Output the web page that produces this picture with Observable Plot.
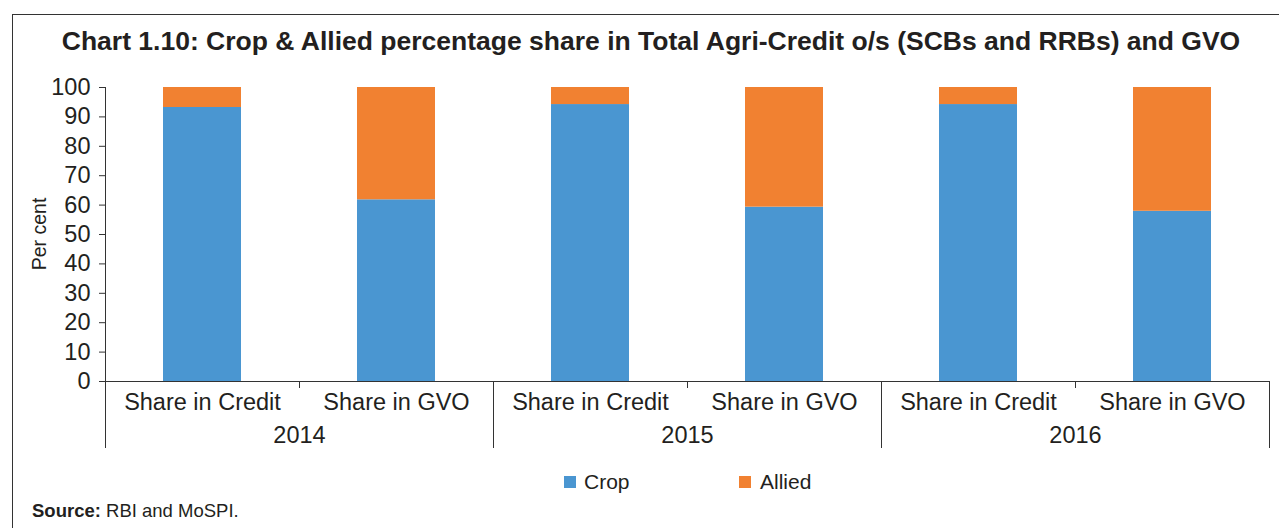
<!DOCTYPE html>
<html><head><meta charset="utf-8">
<script src="https://cdn.jsdelivr.net/npm/d3@7"></script>
<script src="https://cdn.jsdelivr.net/npm/@observablehq/plot@0.6"></script>
<style>
body{margin:0;background:#fff;font-family:"Liberation Sans",Arial,sans-serif;color:#231f20;}
#frame{position:absolute;left:12px;top:14px;width:1300px;height:530px;border-top:1.5px solid #333;border-left:1.5px solid #333;}
#title{position:absolute;left:0;width:1302px;top:26px;text-align:center;font-weight:bold;font-size:26.5px;white-space:nowrap;}
#chart{position:absolute;left:0;top:70px;}
.lg{position:absolute;top:470px;font-size:21px;line-height:24px;}
.sw{position:absolute;top:476px;width:12px;height:12px;}
#source{position:absolute;left:32px;top:500px;font-size:18.5px;}
</style>
</head><body>
<div id="frame"></div>
<div id="title">Chart 1.10: Crop &amp; Allied percentage share in Total Agri-Credit o/s (SCBs and RRBs) and GVO</div>
<div id="chart"></div>
<div class="sw" style="left:564px;background:#4a96d1"></div><div class="lg" style="left:584px">Crop</div>
<div class="sw" style="left:739px;background:#f18131"></div><div class="lg" style="left:760px">Allied</div>
<div id="source"><b>Source:</b> RBI and MoSPI.</div>
<script>
const years = ["2014", "2015", "2016"];
const shares = ["Share in Credit", "Share in GVO"];
const series = ["Crop", "Allied"];
const colors = ["#4a96d1", "#f18131"];
// values in order: 2014 Credit, 2014 GVO, 2015 Credit, 2015 GVO, 2016 Credit, 2016 GVO
const cropValues = [93.2, 61.8, 94.2, 59.3, 94.2, 57.9];
const alliedValues = [6.8, 38.2, 5.8, 40.7, 5.8, 42.1];
const yTicks = [0, 10, 20, 30, 40, 50, 60, 70, 80, 90, 100];

const data = [];
years.forEach((yr, i) => shares.forEach((sh, j) => {
  data.push({year: yr, share: sh, series: "Crop", value: cropValues[i * 2 + j]});
  data.push({year: yr, share: sh, series: "Allied", value: alliedValues[i * 2 + j]});
}));

function build(bw) {
  const lineColor = "#333";
  return Plot.plot({
    width: 1279, height: 385,
    marginTop: 17, marginLeft: 104, marginRight: 9, marginBottom: 74,
    style: {fontFamily: "'Liberation Sans', Arial, sans-serif", fontSize: "23.5px", color: "#231f20", background: "transparent", overflow: "visible"},
    fx: {domain: years, padding: 0, label: null, axis: null},
    x: {domain: shares, paddingInner: 0.6, paddingOuter: 0.3, label: null},
    y: {domain: [0, 100], label: null},
    color: {domain: series, range: colors},
    marks: [
      Plot.barY(data, {fx: "year", x: "share", y: "value", fill: "series", order: series}),
      Plot.ruleY([0], {stroke: lineColor, strokeWidth: 1.2}),
      Plot.axisY({ticks: yTicks, tickSize: 6, tickPadding: 9, label: null, stroke: lineColor}),
      Plot.axisX({anchor: "bottom", tickSize: 0, tickPadding: 11.5, label: null}),
      Plot.axisFx({anchor: "bottom", tickSize: 0, tickPadding: 44.5, label: null}),
      // tick between the two bars of each year
      Plot.ruleX([null], {x: null, y1: 0, y2: 0, insetBottom: -7, stroke: lineColor}),
      // separators at the left edge of every year group
      Plot.ruleX([null], {x: null, y1: 0, y2: 0, insetBottom: -67, dx: -bw / 2, stroke: lineColor}),
      // closing separator on the right of the last group
      Plot.ruleX([years[years.length - 1]], {fx: d => d, x: null, y1: 0, y2: 0, insetBottom: -67, dx: bw / 2, stroke: lineColor}),
      // y-axis line
      Plot.ruleX([years[0]], {fx: d => d, x: null, y1: 0, y2: 100, dx: -bw / 2, stroke: lineColor})
    ]
  });
}

const first = build(0);
const bw = first.scale("fx").bandwidth;
const chart = build(bw);
document.getElementById("chart").append(chart);

// y axis title
const svg = d3.select(chart);
svg.append("text")
  .attr("transform", `translate(46,${(17 + 385 - 74) / 2}) rotate(-90)`)
  .attr("text-anchor", "middle")
  .attr("font-size", 19.5)
  .attr("fill", "#231f20")
  .text("Per cent");
</script>
</body></html>
